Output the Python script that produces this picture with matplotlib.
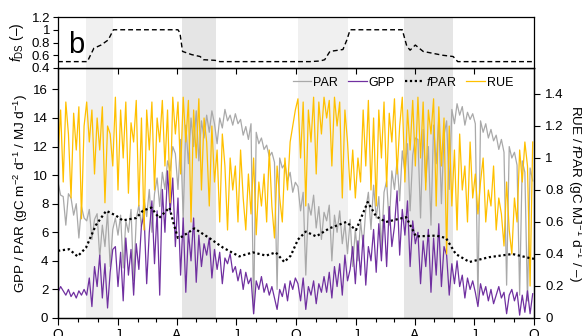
import numpy as np
import matplotlib
matplotlib.use('Agg')
import matplotlib.pyplot as plt
from matplotlib.ticker import FuncFormatter

plt.rcParams['font.family'] = ['Liberation Sans', 'DejaVu Sans']
plt.rcParams['mathtext.fontset'] = 'custom'
plt.rcParams['mathtext.rm'] = 'Liberation Sans'
plt.rcParams['mathtext.it'] = 'Liberation Sans:italic'
plt.rcParams['mathtext.bf'] = 'Liberation Sans:bold'

# ---------------- data (days since 1 October, 4-day steps) ----------------
step_days = 4
par = [
    9.5, 8.6, 8.5, 6.5, 8.7, 8.4, 7.2, 8.0, 5.6, 7.8, 7.0,
    6.8, 7.6, 5.5, 6.9, 7.3, 4.2, 6.5, 5.0, 7.4, 3.6, 6.2,
    7.0, 5.8, 7.2, 3.5, 6.8, 6.0, 7.6, 2.6, 6.9, 7.9, 6.4,
    8.3, 7.1, 9.0, 6.0, 8.7, 9.8, 7.8, 10.2, 9.0, 11.0, 10.3, 12.0, 11.5,
    9.0, 12.5, 7.0, 13.5, 10.8, 14.0, 12.0, 14.5, 11.0, 13.8, 12.6,
    14.2, 13.0, 14.5, 13.6, 12.2, 14.0, 13.3, 14.6, 13.8, 14.2, 13.5,
    14.3, 13.6, 13.9, 12.8, 13.4, 12.5, 13.6, 0.3, 13.0, 12.2, 12.6,
    11.8, 12.1, 11.3, 11.6, 10.9, 2.0, 11.2, 10.5, 10.8, 9.6, 10.2, 8.8, 9.5,
    9.2, 7.5, 8.8, 3.0, 8.0, 7.2, 8.6, 6.3, 7.8, 5.5, 7.4,
    6.8, 7.9, 4.0, 7.2, 6.0, 7.5, 5.2, 6.6, 4.5, 6.9, 3.6,
    6.2, 4.0, 6.8, 5.0, 7.6, 8.8, 6.2, 9.3, 7.0, 8.5, 4.8,
    8.8, 9.6, 6.5, 10.3, 9.0, 11.0, 8.2, 11.7, 10.2, 12.2, 7.5, 11.4, 12.6,
    12.5, 7.0, 13.2, 9.5, 12.0, 6.5, 13.5, 10.8, 14.0, 8.0, 12.8,
    13.8, 9.0, 14.6, 13.6, 15.0, 14.2, 14.8, 13.5, 14.4, 13.9, 14.3,
    13.6, 1.2, 13.8, 13.0, 13.6, 12.6, 13.2, 12.4, 12.8, 11.8, 12.5,
    11.6, 2.3, 12.0, 11.2, 11.6, 10.7, 1.6, 11.0, 10.2, 1.2, 10.5, 9.6,
]
gpp = [
    1.8, 2.2, 1.9, 1.6, 2.0, 1.5, 1.8, 1.4, 1.9, 1.6, 2.0,
    1.6, 2.8, 0.8, 3.6, 2.2, 4.4, 1.4, 3.8, 0.7, 3.2, 4.8,
    5.0, 2.2, 4.6, 1.2, 5.6, 3.0, 4.8, 1.6, 5.2, 3.4, 6.5,
    7.2, 2.4, 6.0, 8.2, 3.8, 7.5, 1.6, 9.0, 6.0, 10.3, 7.4, 9.8, 5.0,
    8.4, 3.0, 7.0, 1.8, 6.0, 4.0, 7.0, 2.5, 5.8, 3.6, 5.2,
    4.4, 5.6, 2.8, 4.8, 3.4, 4.6, 2.4, 4.2, 3.8, 4.5, 3.2,
    3.6, 2.6, 3.4, 2.0, 3.2, 2.4, 2.8, 0.3, 2.6, 2.0, 2.9,
    1.8, 2.4, 1.6, 2.2, 1.4, 0.6, 2.0, 1.5, 2.4, 1.2, 2.6, 2.0, 2.8,
    2.4, 1.2, 2.8, 0.6, 2.2, 1.6, 2.6, 1.0, 2.4, 1.8, 2.9,
    1.8, 3.2, 1.4, 3.6, 2.2, 3.8, 1.6, 4.4, 2.6, 3.4, 5.0,
    2.4, 5.4, 3.0, 5.8, 2.3, 5.0, 4.0, 6.2, 3.2, 6.6, 4.0,
    7.2, 3.6, 7.8, 5.0, 6.4, 8.9, 4.4, 7.6, 5.8, 8.2, 3.6, 6.8, 5.2,
    6.0, 2.4, 5.4, 3.6, 6.2, 1.8, 5.6, 3.0, 6.6, 2.2, 5.0,
    4.4, 1.6, 3.8, 2.4, 4.0, 2.2, 3.0, 1.4, 2.8, 2.0, 2.6,
    1.8, 0.8, 2.4, 1.6, 2.2, 1.2, 2.0, 1.0, 1.6, 2.2, 1.4,
    1.8, 0.3, 1.6, 2.0, 1.2, 1.8, 0.2, 1.6, 0.4, 1.9, 0.3, 1.7,
]
rue = [
    1.00, 1.30, 0.85, 1.35, 1.15, 0.75, 1.28, 1.05, 1.32, 0.62, 1.20,
    1.35, 1.10, 1.30, 0.90, 1.25, 1.05, 1.32, 0.72, 1.20, 1.15, 0.95,
    1.38, 0.80, 1.30, 1.00, 1.35, 0.78, 1.22, 1.10, 1.36, 0.70, 1.25,
    0.55, 1.30, 1.05, 1.35, 0.80, 1.25, 1.10, 1.36, 0.95, 1.30, 0.72, 1.38, 1.15,
    1.35, 0.90, 1.38, 1.10, 1.36, 0.60, 1.30, 1.00, 1.37, 0.80, 1.25,
    1.10, 0.70, 1.20, 0.85, 1.05, 0.60, 1.15, 0.95, 0.55, 1.00, 0.80,
    0.95, 0.60, 1.05, 0.75, 0.55, 0.90, 0.65, 1.00, 0.52, 0.85, 0.70,
    0.90, 0.60, 1.05, 0.70, 0.50, 0.95, 0.75, 0.60, 1.00, 0.80, 1.10, 1.20, 1.30,
    1.37, 1.00, 1.35, 0.70, 1.30, 1.10, 1.38, 0.90, 1.35, 1.15, 1.38,
    1.25, 1.36, 0.95, 1.38, 1.20, 1.35, 0.75, 1.30, 1.10, 0.80, 1.05,
    0.75, 1.00, 0.85, 1.30, 0.95, 1.36, 0.80, 1.25, 0.70, 1.30, 1.00,
    1.35, 0.82, 1.28, 1.10, 1.37, 0.90, 1.20, 1.38, 0.85, 1.30, 1.05, 1.36, 0.95,
    1.38, 1.00, 1.35, 0.80, 1.30, 1.15, 1.37, 0.70, 1.32, 0.95, 1.25,
    0.40, 1.20, 0.70, 1.05, 0.55, 1.15, 0.80, 0.95, 0.60, 1.10, 0.75,
    0.90, 0.65, 0.85, 1.00, 0.60, 0.80, 0.70, 0.95, 0.55, 0.75, 0.65,
    0.45, 0.85, 0.55, 0.40, 0.75, 0.60, 1.05, 0.85, 1.10, 0.95, 0.20, 1.10,
]
fpar_day = [0, 17, 30, 43, 58, 74, 89, 99, 120, 130, 143, 155, 171, 178, 184,
            191, 209, 232, 253, 278, 299, 319, 334, 347, 357, 368, 380, 396,
            416, 442, 457, 475, 488, 503, 518, 534, 549, 580, 595, 610, 631,
            661, 697, 723, 730]
fpar_val = [0.42, 0.43, 0.385, 0.44, 0.58, 0.67, 0.64, 0.61, 0.625, 0.67, 0.69,
            0.625, 0.69, 0.58, 0.50, 0.51, 0.56, 0.50, 0.44, 0.385, 0.41, 0.39,
            0.41, 0.35, 0.39, 0.49, 0.54, 0.51, 0.56, 0.60, 0.55, 0.725, 0.635,
            0.60, 0.615, 0.63, 0.51, 0.515, 0.50, 0.40, 0.35, 0.38, 0.40, 0.375,
            0.37]
fds_day = [0, 45, 55, 66, 77, 85, 184, 187, 191, 205, 218, 223, 241, 248, 386,
           402, 409, 417, 437, 443, 448, 528, 535, 540, 548, 560, 590, 606,
           613, 730]
fds_val = [0.5, 0.5, 0.71, 0.76, 0.84, 1.0, 1.0, 0.95, 0.66, 0.61, 0.58, 0.53,
           0.52, 0.5, 0.5, 0.51, 0.53, 0.66, 0.69, 0.84, 1.0, 1.0, 0.74, 0.68,
           0.76, 0.66, 0.6, 0.58, 0.5, 0.5]
shade_light = [(43, 84), (368, 445)]
shade_dark = [(190, 242), (531, 606)]
major_days = [0, 92, 182, 273, 365, 457, 547, 638, 730]
major_labels = ['O', 'J', 'A', 'J', 'O', 'J', 'A', 'J', 'O']
minor_days = [0, 31, 61, 92, 123, 151, 182, 212, 243, 273, 304, 335,
              365, 396, 426, 457, 488, 516, 547, 577, 608, 638, 669, 700, 730]

days = np.arange(len(par)) * step_days

c_par = '#a9a9a9'
c_gpp = '#7030a0'
c_rue = '#ffc000'
c_light = '#f0f0f0'
c_dark = '#e5e5e5'

fmt = FuncFormatter(lambda v, p: '%g' % round(v, 2))

W, H = 582, 336
fig = plt.figure(figsize=(W / 100, H / 100), dpi=100)
ax = fig.add_axes([58 / W, 18 / H, 476 / W, 250 / H])
axt = fig.add_axes([58 / W, 268 / H, 476 / W, 51 / H])
ax2 = ax.twinx()

for a in (ax, axt):
    for s, e in shade_light:
        a.axvspan(s, e, color=c_light, lw=0, zorder=0)
    for s, e in shade_dark:
        a.axvspan(s, e, color=c_dark, lw=0, zorder=0)
    a.set_xlim(0, 730)

# top panel
axt.plot(fds_day, fds_val, color='black', lw=1.0, ls=(0, (3.5, 2.2)))
axt.set_ylim(0.4, 1.2)
axt.set_yticks([0.4, 0.6, 0.8, 1.0, 1.2])
axt.yaxis.set_major_formatter(fmt)
axt.set_xticks(major_days[1:-1])
axt.set_xticklabels([])
axt.tick_params(axis='x', direction='out', length=4, width=0.8)
axt.tick_params(axis='y', direction='out', length=3.5, width=0.8, labelsize=9.5, pad=2)
axt.set_ylabel(r'$f_{\mathrm{DS}}$ (–)', fontsize=10, va='center', ha='center')
axt.yaxis.set_label_coords((17 - 58) / 476, 0.5)
axt.text(0.022, 0.29, 'b', transform=axt.transAxes, fontsize=21, va='baseline')
for sp in axt.spines.values():
    sp.set_linewidth(0.9)

# bottom panel
l1, = ax.plot(days, par, color=c_par, lw=0.9, zorder=2)
l2, = ax.plot(days, gpp, color=c_gpp, lw=0.9, zorder=3)
l4, = ax2.plot(days, rue, color=c_rue, lw=0.9, zorder=2)
l3, = ax2.plot(fpar_day, fpar_val, color='black', lw=1.6, ls=(0, (1, 1.2)), zorder=4)

ax.set_ylim(0, 17.5)
ax2.set_ylim(0, 1.5625)
ax.set_yticks(np.arange(0, 17, 2))
ax2.set_yticks([0, 0.2, 0.4, 0.6, 0.8, 1.0, 1.2, 1.4])
ax2.yaxis.set_major_formatter(fmt)
ax.set_xticks(major_days)
ax.set_xticklabels(major_labels)
ax.set_xticks(minor_days, minor=True)
ax.tick_params(axis='x', which='major', direction='out', length=5, width=0.8, labelsize=10, pad=2)
ax.tick_params(axis='x', which='minor', direction='out', length=3, width=0.8)
ax.tick_params(axis='y', direction='out', length=4, width=0.8, labelsize=9.5, pad=3)
ax2.tick_params(axis='y', direction='out', length=4, width=0.8, labelsize=9.5, pad=4)
ax.set_ylabel(r'GPP / PAR (gC m$^{-2}$ d$^{-1}$ / MJ d$^{-1}$)', fontsize=9.7,
              va='center', ha='center')
ax.yaxis.set_label_coords((21 - 58) / 476, 0.5)
ax2.set_ylabel(r'RUE / $f$PAR (gC MJ$^{-1}$ d$^{-1}$ / –)', fontsize=9.7, rotation=270,
               va='center', ha='center')
ax2.yaxis.set_label_coords((575 - 58) / 476, 0.5)
for a in (ax, ax2):
    for sp in a.spines.values():
        sp.set_linewidth(0.9)

ax2.legend([l1, l2, l3, l4], ['PAR', 'GPP', r'$f$PAR', 'RUE'], loc='upper right',
           bbox_to_anchor=(0.98, 1.015), ncol=4, frameon=False, fontsize=9,
           handlelength=1.5, handletextpad=0.15, columnspacing=0.8)

fig.savefig('out.png', dpi=100)
